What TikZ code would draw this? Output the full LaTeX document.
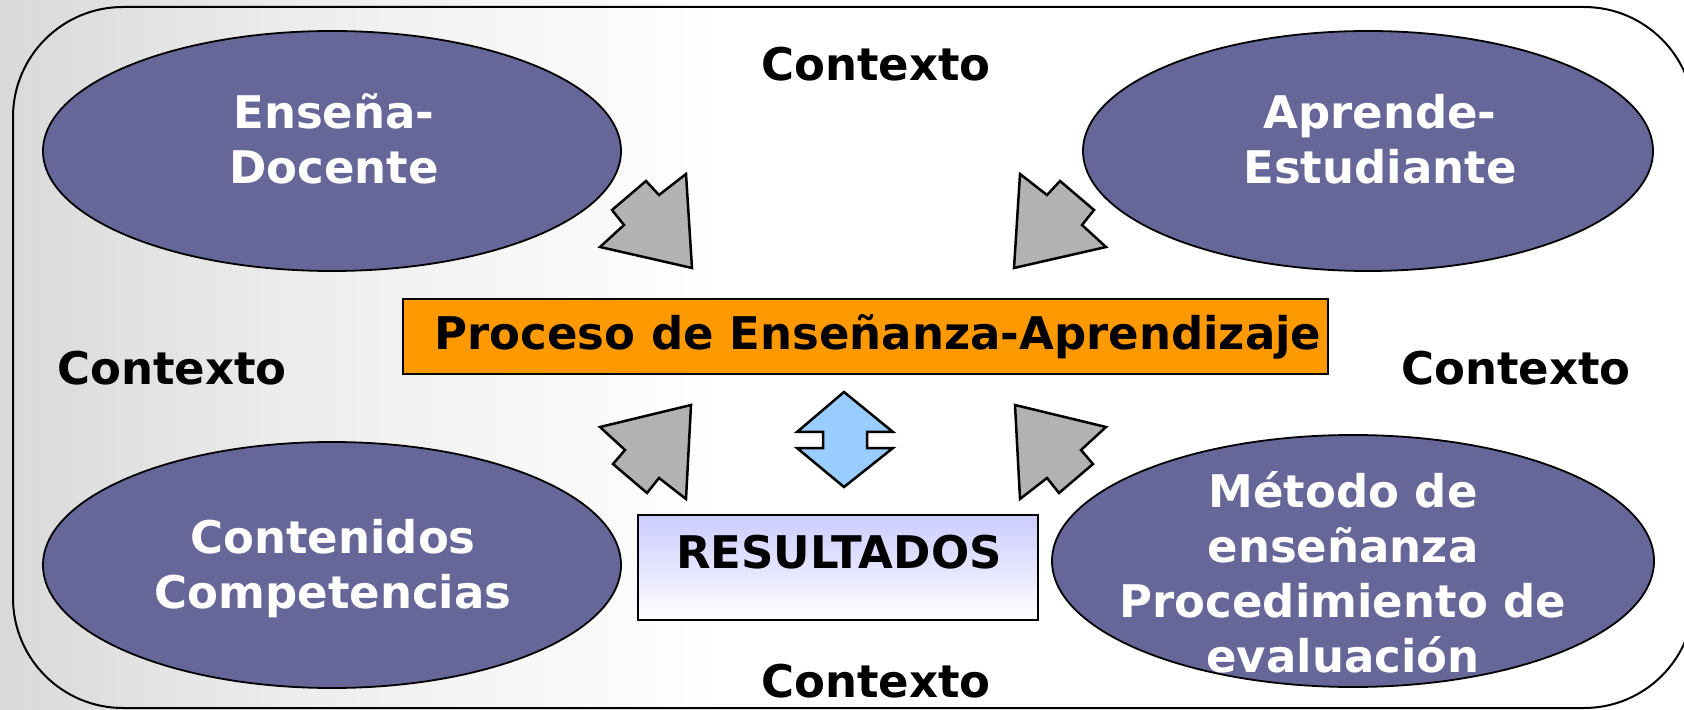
\documentclass[tikz,border=0pt]{standalone}
\usepackage{fontspec}
\setmainfont{DejaVu Sans}
\usetikzlibrary{shapes.geometric}
\definecolor{ellfill}{HTML}{666699}
\definecolor{procfill}{HTML}{FF9900}
\definecolor{arrgray}{HTML}{B2B2B2}
\definecolor{arrblue}{HTML}{99CCFF}
\definecolor{lav}{HTML}{CCCCFF}
\definecolor{lavmid}{HTML}{E4E4FF}
\begin{document}
\begin{tikzpicture}[x=0.5pt,y=-0.5pt,
  lbl/.style={font=\bfseries\fontsize{22.5pt}{27.5pt}\selectfont, inner sep=0pt, align=center},
  wlbl/.style={lbl, text=white},
  ell/.style={ellipse, draw=black, line width=0.9pt, fill=ellfill, inner sep=0pt},
  blockarrow/.style={draw=black, line width=1.25pt, line join=miter, fill=arrgray},
  dblarrow/.style={draw=black, line width=1.25pt, line join=miter, fill=arrblue},
  procbox/.style={draw=black, line width=0.8pt, fill=procfill, inner sep=0pt},
  resbox/.style={draw=black, line width=0.8pt, top color=lav, bottom color=white, middle color=lavmid, inner sep=0pt},
  frame/.style={draw=black, line width=1pt, rounded corners=55pt}
]
\useasboundingbox (0,0) rectangle (1684,710);
\clip (0,0) rectangle (1684,710);
% background texture (approximation)
\fill[left color=black!15, right color=black!7] (0,0) rectangle (300,710);
\fill[left color=black!7, right color=white] (300,0) rectangle (720,710);
% frame
\draw[frame] (13,7) rectangle (1694,708);
% ellipses
\node[ell, minimum width=289pt, minimum height=120pt] (e1) at (332,151) {};
\node[ell, minimum width=285pt, minimum height=120pt] (e2) at (1368,151) {};
\node[ell, minimum width=289pt, minimum height=123pt] (e3) at (332,565) {};
\node[ell, minimum width=301pt, minimum height=126pt] (e4) at (1353,561) {};
\node[wlbl] (t1) at (334,139) {Enseña-\\Docente};
\node[wlbl] (t2) at (1380,139) {Aprende-\\Estudiante};
\node[wlbl] (t3) at (333,569) {Contenidos\\Competencias};
\node[wlbl] (t4) at (1343,572) {Método de\\enseñanza\\Procedimiento de\\evaluación};
% central boxes
\node[procbox, minimum width=462.5pt, minimum height=37.5pt] (proc) at (865.5,336.5) {};
\node[lbl] (proct) at (878,337) {Proceso de Enseñanza-Aprendizaje};
\node[resbox, minimum width=200pt, minimum height=52.5pt] (res) at (838,567.5) {};
\node[lbl] (rest) at (839,552) {RESULTADOS};
% context labels
\node[lbl] (ctop) at (876,64) {Contexto};
\node[lbl] (cleft) at (172,368) {Contexto};
\node[lbl] (cright) at (1516,368) {Contexto};
\node[lbl] (cbot) at (876,681) {Contexto};
% block arrows
\draw[blockarrow] (692,268) -- (600,247) -- (624,225) -- (612,210) -- (646,181) -- (659,195) -- (686,174) -- cycle;
\draw[blockarrow] (1014,268) -- (1106,247) -- (1082,225) -- (1094,210) -- (1060,181) -- (1047,195) -- (1020,174) -- cycle;
\draw[blockarrow] (691,405) -- (600,427) -- (625,450) -- (613,464) -- (647,493) -- (659,478) -- (686,499) -- cycle;
\draw[blockarrow] (1015,405) -- (1106,427) -- (1081,450) -- (1093,464) -- (1059,493) -- (1047,478) -- (1020,499) -- cycle;
\draw[dblarrow] (844,392) -- (893,432) -- (867,432) -- (867,448) -- (893,448) -- (844,487) -- (797,448) -- (823,448) -- (823,432) -- (797,432) -- cycle;
\end{tikzpicture}
\end{document}
